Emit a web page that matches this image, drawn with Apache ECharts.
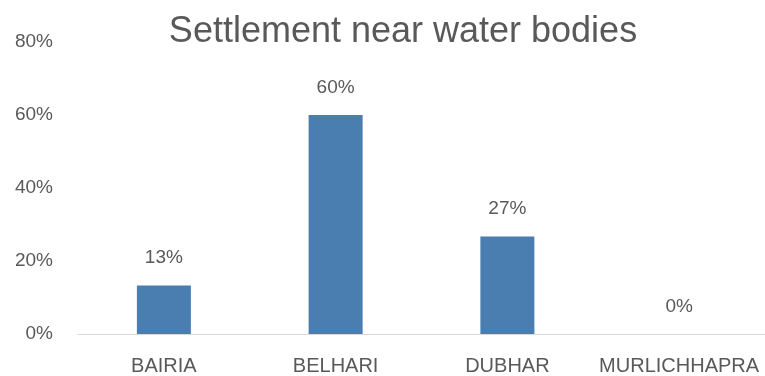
<!DOCTYPE html>
<html>
<head>
<meta charset="utf-8">
<script src="https://cdn.jsdelivr.net/npm/echarts@6/dist/echarts.min.js"></script>
<style>html,body{margin:0;padding:0;background:#fff}#c{width:765px;height:376px}</style>
</head>
<body>
<div id="c"></div>
<script>
const categories = ["BAIRIA", "BELHARI", "DUBHAR", "MURLICHHAPRA"];
const values = [13.3, 60, 26.7, 0];
const yTicks = [0, 20, 40, 60, 80];

const font = "'Liberation Sans', Arial, sans-serif";
const chart = echarts.init(document.getElementById('c'));
chart.setOption({
  animation: false,
  title: {
    text: 'Settlement near water bodies',
    left: 398, top: 9, textAlign: 'center',
    textStyle: {fontFamily: font, fontSize: 36, fontWeight: 'normal', color: '#595959'}
  },
  grid: {left: 78, right: -1, top: 42, bottom: 42, containLabel: false},
  xAxis: {
    type: 'category', data: categories,
    axisLine: {lineStyle: {color: '#d9d9d9', width: 1}},
    axisTick: {show: false},
    axisLabel: {fontFamily: font, fontSize: 20, color: '#595959', margin: 22, interval: 0, hideOverlap: false}
  },
  yAxis: {
    type: 'value', min: yTicks[0], max: yTicks[yTicks.length - 1], interval: 20,
    axisLine: {show: false}, axisTick: {show: false},
    splitLine: {show: false},
    axisLabel: {fontFamily: font, fontSize: 19, color: '#595959', margin: 25, formatter: v => v + '%'}
  },
  series: [{
    type: 'bar', data: values, barWidth: 54,
    itemStyle: {color: '#4a7eb0'},
    label: {show: true, position: 'top', distance: 18, fontFamily: font, fontSize: 19, color: '#595959',
      formatter: p => Math.round(p.value) + '%'}
  }]
});
</script>
</body>
</html>
